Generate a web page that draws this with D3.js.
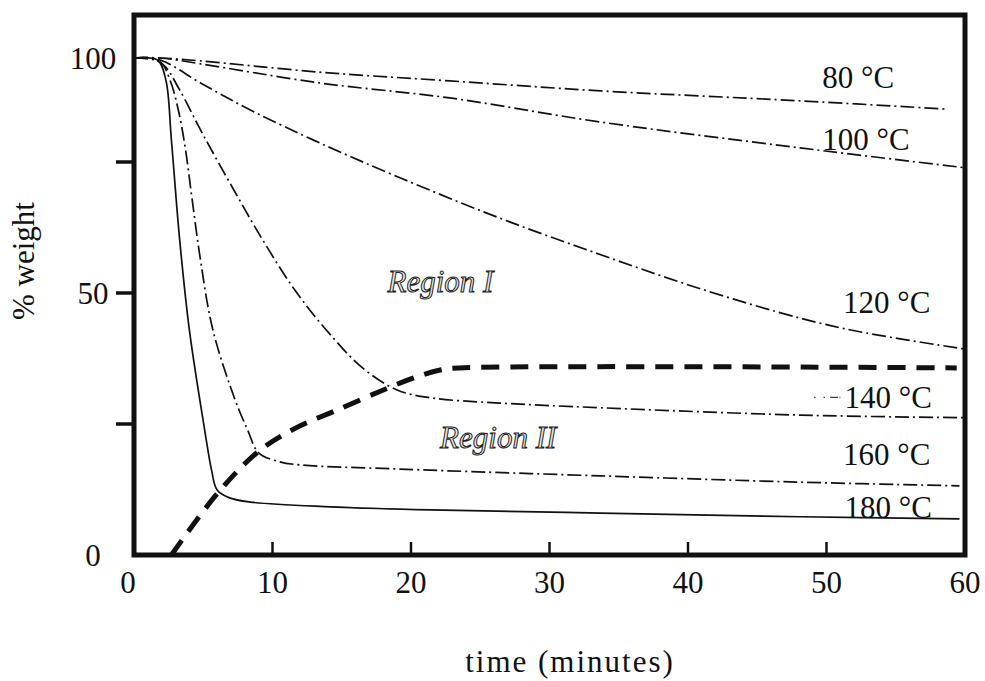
<!doctype html>
<html>
  <head>
    <script src="https://cdnjs.cloudflare.com/ajax/libs/d3/7.8.5/d3.min.js"></script>
    <style>
      body { margin: 0; background: #fff; }
      text { font-family: "Liberation Serif", "Times New Roman", serif; fill: #111; }
    </style>
  </head>
  <body>
    <svg id="chart" style="height: 681px; width: 985px;"></svg>

    <script>
        // values: [time (min), % weight]
        var curve80  = [[0,100],[1.9,100],[4.8,99.3],[13.4,96.6],[22.8,94.5],[33.7,92.1],[48.1,89.7],[58.7,87.7]];
        var curve100 = [[0,100],[1.9,100],[4.8,98.6],[13.4,94.0],[22.8,90.4],[33.7,84.6],[48.1,78.4],[60,73.9]];
        var curve120 = [[0,100],[1.9,99.5],[4.8,94.0],[8.4,87.5],[13.4,79.6],[19.2,72.0],[26.4,64.3],[33.7,57.3],
                        [40.9,50.8],[48.1,45.2],[52.4,42.6],[60,39.3]];
        var curve140 = [[0,100],[1.2,100],[2.2,98.1],[3.3,92.3],[5.0,81.5],[7.2,69.7],[9.3,60.1],[11.6,50.6],
                        [13.9,42.9],[16.5,35.7],[19.0,31.5],[21.4,30.0],[26.4,29.0],[33.7,28.1],[48.1,26.7],[60,26.2]];
        var curve160 = [[0,100],[1.9,99.0],[2.6,94.7],[3.2,87.5],[3.7,78.4],[4.2,67.8],[4.8,56.3],[5.7,42.9],
                        [7.3,29.6],[8.2,23.9],[9.0,19.5],[10.5,17.8],[12.0,17.2],[19.2,16.4],[33.7,15.1],[48.1,13.9],[59.6,13.2]];
        var curve180 = [[0,100],[1.7,99.5],[2.3,94.7],[2.7,80.3],[3.3,60.1],[4.0,42.9],[5.1,23.9],[5.6,16.2],
                        [6.0,12.4],[6.9,10.9],[8.4,10.1],[14.2,9.2],[21.4,8.6],[33.7,8.0],[48.1,7.3],[59.6,6.9]];
        // border between region I and region II
        var boundary = [[2.7,0],[6.1,12.0],[9.1,20.0],[11.8,24.4],[14.7,27.7],[18.0,31.5],[20.4,34.0],[22.1,35.3],[23.5,35.7],[59.4,35.7]];

        var curveNames = ["80 °C", "100 °C", "120 °C", "140 °C", "160 °C", "180 °C"];
        var xTicks = [10, 20, 30, 40, 50];
        var xTickLabels = [0, 10, 20, 30, 40, 50, 60];
        var yTicks = [25, 50, 75];
        var yTickLabels = [0, 50, 100];

        var svg = d3.select("#chart");

        var x = d3.scaleLinear().domain([0, 60]).range([134, 965]);
        // the printed y axis is not evenly spaced above 75
        var y = d3.scaleLinear().domain([0, 75, 100]).range([555, 162, 58]);

        var line = d3.line()
            .x(d => x(d[0]))
            .y(d => y(d[1]))
            .curve(d3.curveCatmullRom.alpha(0.5));

        var curves = [curve80, curve100, curve120, curve140, curve160, curve180];

        svg.selectAll("path.curve")
            .data(curves)
            .enter()
            .append("path")
            .attr("class", "curve")
            .attr("d", line)
            .attr("fill", "none")
            .attr("stroke", "#111")
            .attr("stroke-width", 1.7)
            .attr("stroke-dasharray", (d, i) => i == 5 ? null : "14,4,2,4");

        svg.append("path")
            .attr("d", line(boundary))
            .attr("fill", "none")
            .attr("stroke", "#111")
            .attr("stroke-width", 5)
            .attr("stroke-dasharray", "18,11");

        // frame
        svg.append("rect")
            .attr("x", x(0)).attr("y", 15)
            .attr("width", x(60) - x(0)).attr("height", y(0) - 15)
            .attr("fill", "none")
            .attr("stroke", "#111")
            .attr("stroke-width", 5);

        svg.selectAll("line.xt")
            .data(xTicks)
            .enter()
            .append("line")
            .attr("x1", d => x(d)).attr("x2", d => x(d))
            .attr("y1", y(0)).attr("y2", y(0) - 13)
            .attr("stroke", "#111").attr("stroke-width", 2.5);

        svg.selectAll("line.yt")
            .data(yTicks)
            .enter()
            .append("line")
            .attr("x1", x(0) - 18).attr("x2", x(0))
            .attr("y1", d => y(d)).attr("y2", d => y(d))
            .attr("stroke", "#111").attr("stroke-width", 3.5);

        svg.selectAll("text.xl")
            .data(xTickLabels)
            .enter()
            .append("text")
            .attr("x", d => x(d) - (d == 0 ? 6 : 0))
            .attr("y", 593)
            .attr("text-anchor", "middle")
            .style("font-size", "31px")
            .text(d => d);

        svg.selectAll("text.yl")
            .data(yTickLabels)
            .enter()
            .append("text")
            .attr("x", 93)
            .attr("y", d => y(d))
            .attr("dy", "0.35em")
            .attr("text-anchor", "middle")
            .style("font-size", "31px")
            .text(d => d);

        svg.append("text")
            .attr("x", 570).attr("y", 672)
            .attr("text-anchor", "middle")
            .style("font-size", "31px")
            .style("letter-spacing", "2px")
            .text("time (minutes)");

        svg.append("text")
            .attr("transform", "translate(34,261) rotate(-90)")
            .attr("text-anchor", "middle")
            .style("font-size", "31px")
            .text("% weight");

        // curve labels, placed at [time, weight] of their left baseline
        var labelAt = [[49.7, 92.8], [49.7, 77.9], [51.2, 46.2], [51.3, 28.0], [51.2, 17.2], [51.3, 7.1]];
        svg.selectAll("text.cl")
            .data(curveNames)
            .enter()
            .append("text")
            .attr("x", (d, i) => x(labelAt[i][0]))
            .attr("y", (d, i) => y(labelAt[i][1]))
            .style("font-size", "31px")
            .text(d => d);

        // little leader in front of the 140 label
        svg.append("line")
            .attr("x1", x(49.1)).attr("x2", x(51.0))
            .attr("y1", y(30.1)).attr("y2", y(30.1))
            .attr("stroke", "#444").attr("stroke-width", 1.2)
            .attr("stroke-dasharray", "1.5,8,1.5,5,8");

        var regions = [["Region I", 18.3, 50.2], ["Region II", 22.1, 20.4]];
        svg.selectAll("text.rg")
            .data(regions)
            .enter()
            .append("text")
            .attr("x", d => x(d[1]))
            .attr("y", d => y(d[2]))
            .style("font-size", "31px")
            .style("font-style", "italic")
            .style("fill", "#e6e6e6")
            .style("stroke", "#222")
            .style("stroke-width", 1)
            .text(d => d[0]);
    </script>
  </body>
</html>
